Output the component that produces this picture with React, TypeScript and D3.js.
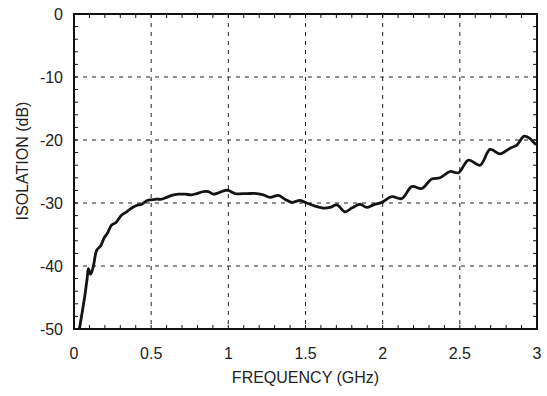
import * as d3 from "d3";

const WIDTH = 547;
const HEIGHT = 396;
const MARGIN = { top: 14, right: 10, bottom: 67, left: 74 };

// frequency in GHz, isolation in dB
const freq = [
  0.035, 0.05, 0.071, 0.086, 0.093, 0.108, 0.125, 0.147, 0.173, 0.194, 0.216, 0.244, 0.272,
  0.309, 0.341, 0.374, 0.406, 0.439, 0.475, 0.503, 0.536, 0.568, 0.601, 0.633, 0.676, 0.719,
  0.763, 0.795, 0.838, 0.87, 0.903, 0.935, 0.979, 1.0, 1.043, 1.12, 1.184, 1.227, 1.27, 1.324,
  1.367, 1.411, 1.465, 1.508, 1.562, 1.616, 1.659, 1.703, 1.756, 1.8, 1.853, 1.897, 1.94,
  1.994, 2.059, 2.124, 2.189, 2.253, 2.318, 2.372, 2.437, 2.491, 2.556, 2.631, 2.696, 2.761,
  2.826, 2.869, 2.917, 2.951, 2.988, 3.0,
];
const isolation = [
  -50, -47.8, -44.6, -41.8, -40.4, -41.3, -40.1, -37.5, -36.8, -35.6, -34.8, -33.5, -33.1,
  -31.9, -31.4, -30.8, -30.4, -30.2, -29.6, -29.5, -29.4, -29.4, -29.1, -28.8, -28.6, -28.6,
  -28.7, -28.5, -28.2, -28.2, -28.6, -28.4, -28.0, -28.0, -28.5, -28.5, -28.5, -28.7, -29.1,
  -28.8, -29.4, -29.9, -29.6, -30.0, -30.5, -30.8, -30.7, -30.3, -31.4, -30.8, -30.2, -30.7,
  -30.3, -29.9, -29.0, -29.3, -27.4, -27.7, -26.2, -26.0, -25.0, -25.2, -23.2, -24.0, -21.5,
  -22.2, -21.3, -20.8, -19.4, -19.7, -20.6, -20.7,
];

const xTicks = [0, 0.5, 1, 1.5, 2, 2.5, 3];
const yTicks = [0, -10, -20, -30, -40, -50];

const FONT = "'Liberation Sans', Arial, sans-serif";
const FONT_SIZE = 16;

export default function App() {
  const boundsWidth = WIDTH - MARGIN.left - MARGIN.right;
  const boundsHeight = HEIGHT - MARGIN.top - MARGIN.bottom;

  const xScale = d3.scaleLinear().domain([0, 3]).range([0, boundsWidth]);
  const yScale = d3.scaleLinear().domain([-50, 0]).range([boundsHeight, 0]);

  const points = freq.map((f, i) => [f, isolation[i]] as [number, number]);
  const linePath = d3
    .line<[number, number]>()
    .x((d) => xScale(d[0]))
    .y((d) => yScale(d[1]))
    .curve(d3.curveCatmullRom)(points);

  const minorX = d3.range(0, 31).map((i) => i / 10);
  const minorY = d3.range(0, 26).map((i) => -i * 2);

  return (
    <svg
      width={WIDTH}
      height={HEIGHT}
      style={{ position: "absolute", left: 0, top: 0, background: "#fff" }}
    >
      <defs>
        <clipPath id="plot">
          <rect x={0} y={0} width={boundsWidth} height={boundsHeight} />
        </clipPath>
      </defs>
      <g transform={`translate(${MARGIN.left},${MARGIN.top})`}>
        {/* grid */}
        {xTicks.slice(1, -1).map((t, i) => (
          <line
            key={"gx" + i}
            x1={xScale(t)}
            x2={xScale(t)}
            y1={0}
            y2={boundsHeight}
            stroke="#222"
            strokeWidth={1}
            strokeDasharray="4,5"
          />
        ))}
        {yTicks.slice(1, -1).map((t, i) => (
          <line
            key={"gy" + i}
            x1={0}
            x2={boundsWidth}
            y1={yScale(t)}
            y2={yScale(t)}
            stroke="#222"
            strokeWidth={1}
            strokeDasharray="4,5"
          />
        ))}

        {/* minor ticks, inward on all four sides */}
        {minorX.map((t, i) => (
          <g key={"tx" + i}>
            <line x1={xScale(t)} x2={xScale(t)} y1={boundsHeight} y2={boundsHeight - 4} stroke="#111" />
            <line x1={xScale(t)} x2={xScale(t)} y1={0} y2={4} stroke="#111" />
          </g>
        ))}
        {minorY.map((t, i) => (
          <g key={"ty" + i}>
            <line x1={0} x2={4} y1={yScale(t)} y2={yScale(t)} stroke="#111" />
            <line x1={boundsWidth} x2={boundsWidth - 4} y1={yScale(t)} y2={yScale(t)} stroke="#111" />
          </g>
        ))}

        {/* curve */}
        <path
          d={linePath ?? ""}
          fill="none"
          stroke="#141414"
          strokeWidth={2.8}
          strokeLinejoin="round"
          clipPath="url(#plot)"
        />

        {/* frame */}
        <rect
          x={0}
          y={0}
          width={boundsWidth}
          height={boundsHeight}
          fill="none"
          stroke="#111"
          strokeWidth={2}
        />

        {/* tick labels */}
        {xTicks.map((t, i) => (
          <text
            key={"lx" + i}
            x={xScale(t)}
            y={boundsHeight + 30}
            textAnchor="middle"
            fontSize={FONT_SIZE}
            fontFamily={FONT}
            fill="#222"
          >
            {t}
          </text>
        ))}
        {yTicks.map((t, i) => (
          <text
            key={"ly" + i}
            x={-11}
            y={yScale(t)}
            textAnchor="end"
            dominantBaseline="central"
            fontSize={FONT_SIZE}
            fontFamily={FONT}
            fill="#222"
          >
            {t}
          </text>
        ))}

        {/* axis titles */}
        <text
          x={boundsWidth / 2}
          y={boundsHeight + 54}
          textAnchor="middle"
          fontSize={FONT_SIZE}
          fontFamily={FONT}
          fill="#222"
        >
          FREQUENCY (GHz)
        </text>
        <text
          transform={`translate(${-52},${147}) rotate(-90)`}
          textAnchor="middle"
          dominantBaseline="central"
          fontSize={FONT_SIZE}
          fontFamily={FONT}
          fill="#222"
        >
          ISOLATION (dB)
        </text>
      </g>
    </svg>
  );
}
